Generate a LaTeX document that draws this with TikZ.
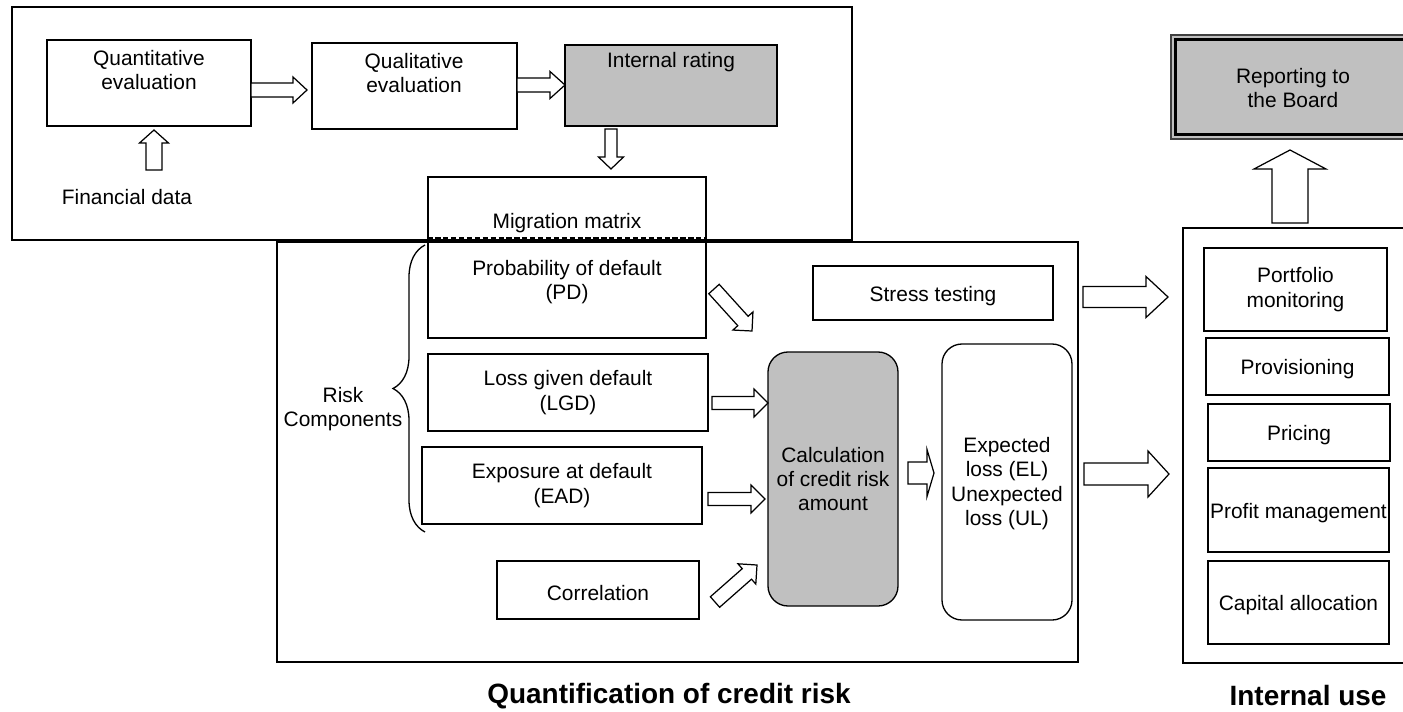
\documentclass[tikz,border=0pt]{standalone}
\usepackage{fontspec}
\setmainfont{Liberation Sans}
\usetikzlibrary{calc,fit,decorations.pathreplacing}
\definecolor{boxgray}{HTML}{C0C0C0}
\newcommand\bodyfont{\fontsize{11.9}{13.9}\selectfont}
\newcommand\headfont{\fontsize{15.9}{18}\selectfont\bfseries}
% block arrow: #1 shaft half-width, #2 head half-width, #3 head length (cm), #4 tail, #5 tip
\newcommand\blockarrow[5]{%
  \coordinate (ba-neck) at ($(#5)!#3cm!(#4)$);
  \draw[blockarrow] ($(#4)!#1cm!90:(#5)$)
    -- ($(ba-neck)!#1cm!-90:(#4)$)
    -- ($(ba-neck)!#2cm!-90:(#4)$)
    -- (#5)
    -- ($(ba-neck)!#2cm!90:(#4)$)
    -- ($(ba-neck)!#1cm!90:(#4)$)
    -- ($(#4)!#1cm!-90:(#5)$) -- cycle;
}
\begin{document}
\begin{tikzpicture}[x=0.02cm,y=-0.02cm,
  frame/.style={draw, line width=1.4pt, inner sep=0pt},
  box/.style={draw, line width=0.75pt, inner sep=0pt},
  roundbox/.style={box, rounded corners=0.4cm},
  txt/.style={inner sep=0pt, font=\bodyfont, align=center},
  oneline/.style={txt, yshift=-0.06cm},
  heading/.style={inner sep=0pt, font=\headfont},
  blockarrow/.style={draw, line width=0.7pt, fill=white, line join=miter},
]
\useasboundingbox (0,0) rectangle (1403,711);
\clip (0,0) rectangle (1403,711);

% outer frames
\node[frame, fit={(12,7) (852,240)}] (rating-frame) {};
\node[frame, fit={(277,242) (1078,662)}] (quant-frame) {};
\node[frame, fit={(1183,228) (1412,663)}] (use-frame) {};

% internal rating stage
\node[box, fit={(47,40) (251,126)}] (quant) {};
\node[txt] (quant-text) at (149,70) {Quantitative\\evaluation};
\node[box, fit={(312,43) (517,129)}] (qual) {};
\node[txt] (qual-text) at (414,73) {Qualitative\\evaluation};
\node[box, fill=boxgray, fit={(565,45) (777,126)}] (rating) {};
\node[txt] (rating-text) at (671,62) {Internal rating};
\node[txt] (fin) at (127,197) {Financial data};

% migration matrix / PD
\node[box, fit={(428,177) (706,338)}] (pd) {};
\draw[line width=0.75pt, dash pattern=on 3pt off 1.5pt] (pd.west |- 0,238) -- (pd.east |- 0,238);
\node[txt] (mig-text) at (567,223) {Migration matrix};
\node[txt] (pd-text) at (567,282) {Probability of default\\(PD)};

% risk components
\node[box, fit={(428,354) (708,431)}] (lgd) {};
\node[txt] (lgd-text) at (lgd.center) {Loss given default\\(LGD)};
\node[box, fit={(422,447) (702,524)}] (ead) {};
\node[txt] (ead-text) at (ead.center) {Exposure at default\\(EAD)};
\node[box, fit={(497,561) (699,619)}] (corr) {};
\node[oneline] (corr-text) at (corr.center) {Correlation};
\draw[line width=0.75pt, decorate, decoration={brace, amplitude=0.64cm}] (425,532) -- (425,245);
\node[txt] (risk) at (343,409) {Risk\\Components};

% calculation
\node[box, fit={(813,266) (1053,320)}] (stress) {};
\node[oneline] (stress-text) at (stress.center) {Stress testing};
\node[roundbox, fill=boxgray, fit={(768,352) (898,606)}] (calc) {};
\node[txt] (calc-text) at (calc.center) {Calculation\\of credit risk\\amount};
\node[roundbox, fit={(942,344) (1072,620)}] (loss) {};
\node[txt] (loss-text) at ([yshift=-0.03cm]loss.center) {Expected\\loss (EL)\\Unexpected\\loss (UL)};

% internal use
\node[box, fit={(1204,248) (1387,331)}] (monitor) {};
\node[txt] (monitor-text) at (monitor.center) {Portfolio\\monitoring};
\node[box, fit={(1206,338) (1389,395)}] (prov) {};
\node[oneline] (prov-text) at (prov.center) {Provisioning};
\node[box, fit={(1208,404) (1390,461)}] (pricing) {};
\node[oneline] (pricing-text) at (pricing.center) {Pricing};
\node[box, fit={(1208,468) (1389,552)}] (profit) {};
\node[oneline] (profit-text) at (profit.center) {Profit management};
\node[box, fit={(1208,561) (1389,644)}] (capital) {};
\node[oneline] (capital-text) at (capital.center) {Capital allocation};

% reporting
\node[draw=black!75, line width=0.6pt, fill=boxgray, inner sep=0pt, fit={(1171,35) (1415,139)}] (board) {};
\draw[line width=1.3pt] ([shift={(5,5)}]board.north west) rectangle ([shift={(-5,-5)}]board.south east);
\node[txt] (board-text) at (1293,88) {Reporting to\\the Board};

% headings
\node[heading] (quant-title) at (669,696) {Quantification of credit risk};
\node[heading] (use-title) at (1308,696) {Internal use};

% arrow ends
\coordinate (fin-tail) at (154,170);   \coordinate (fin-tip) at (154,130);
\coordinate (quant-out) at (251,90);   \coordinate (qual-in) at (307,90);
\coordinate (qual-out) at (517,85);    \coordinate (rating-in) at (565,85);
\coordinate (rating-out) at (611,129); \coordinate (pd-in) at (611,169);
\coordinate (pd-out) at (714,289);     \coordinate (calc-in1) at (752,331);
\coordinate (lgd-out) at (712,403);    \coordinate (calc-in2) at (768,403);
\coordinate (ead-out) at (708,499);    \coordinate (calc-in3) at (765,499);
\coordinate (corr-out) at (715,602);   \coordinate (calc-in4) at (757,565);
\coordinate (calc-out) at (908,473);   \coordinate (loss-in) at (934,473);
\coordinate (stress-out) at (1083,297);\coordinate (use-in1) at (1168,297);
\coordinate (loss-out) at (1084,474);  \coordinate (use-in2) at (1169,474);
\coordinate (use-out) at (1290,223);   \coordinate (board-in) at (1290,150);

\blockarrow{0.16}{0.29}{0.26}{fin-tail}{fin-tip}
\blockarrow{0.14}{0.26}{0.28}{quant-out}{qual-in}
\blockarrow{0.14}{0.27}{0.30}{qual-out}{rating-in}
\blockarrow{0.12}{0.25}{0.24}{rating-out}{pd-in}
\blockarrow{0.14}{0.27}{0.27}{pd-out}{calc-in1}
\blockarrow{0.13}{0.28}{0.28}{lgd-out}{calc-in2}
\blockarrow{0.13}{0.28}{0.28}{ead-out}{calc-in3}
\blockarrow{0.14}{0.27}{0.27}{corr-out}{calc-in4}
\blockarrow{0.22}{0.47}{0.14}{calc-out}{loss-in}
\blockarrow{0.21}{0.41}{0.44}{stress-out}{use-in1}
\blockarrow{0.22}{0.46}{0.42}{loss-out}{use-in2}
\blockarrow{0.36}{0.72}{0.38}{use-out}{board-in}
\end{tikzpicture}
\end{document}
